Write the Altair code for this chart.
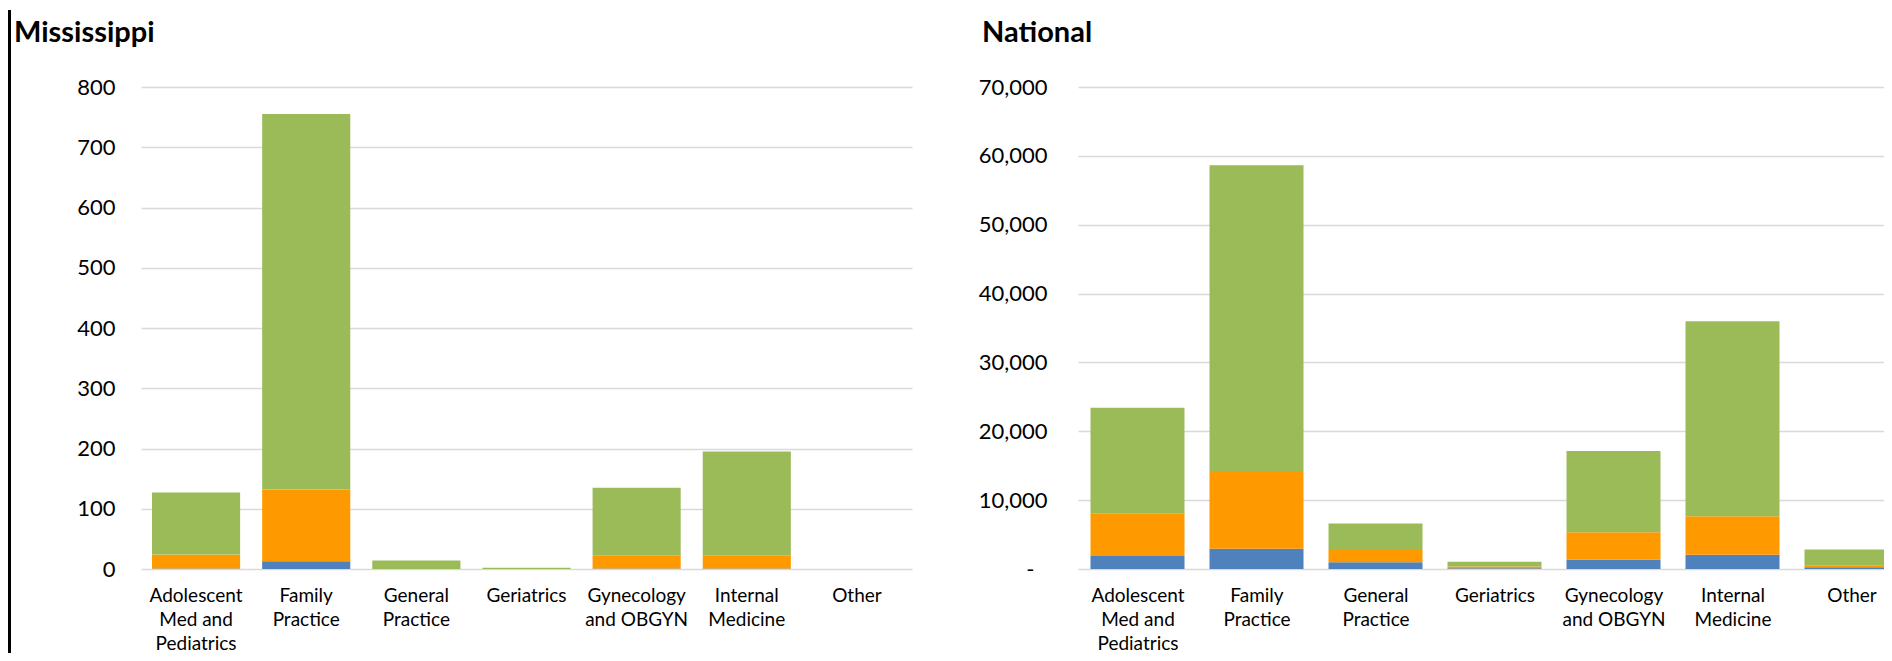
import altair as alt
import pandas as pd

# ---------------- data ----------------
categories = [
    "Adolescent Med and Pediatrics",
    "Family Practice",
    "General Practice",
    "Geriatrics",
    "Gynecology and OBGYN",
    "Internal Medicine",
    "Other",
]
label_lines = [
    ["Adolescent", "Med and", "Pediatrics"],
    ["Family", "Practice"],
    ["General", "Practice"],
    ["Geriatrics"],
    ["Gynecology", "and OBGYN"],
    ["Internal", "Medicine"],
    ["Other"],
]
series = ["Group 1", "Group 2", "Group 3"]
colors = ["#4F81BD", "#FF9900", "#9BBB59"]

ms_title = "Mississippi"
nat_title = "National"

ms_group1 = [1, 13, 0, 0, 1, 1, 0]
ms_group2 = [23, 119, 0, 0, 22, 21, 0]
ms_group3 = [103, 623, 14, 2, 112, 173, 0]

nat_group1 = [1900, 2950, 970, 120, 1350, 2070, 250]
nat_group2 = [6200, 11300, 1950, 250, 4000, 5600, 300]
nat_group3 = [15300, 44400, 3700, 670, 11800, 28300, 2300]

ms_ticks = [0, 100, 200, 300, 400, 500, 600, 700, 800]
nat_ticks = [0, 10000, 20000, 30000, 40000, 50000, 60000, 70000]


def long_df(groups):
    rows = []
    for si, (s, vals) in enumerate(zip(series, groups)):
        for ci, (c, v) in enumerate(zip(categories, vals)):
            rows.append({"category": c, "idx": ci, "series": s, "order": si, "value": v})
    return pd.DataFrame(rows)


ms_df = long_df([ms_group1, ms_group2, ms_group3])
nat_df = long_df([nat_group1, nat_group2, nat_group3])


def lines_arr(lines):
    return "[" + ",".join("'" + l + "'" for l in lines) + "]"


# label expressions for multi-line category labels
expr_name = "datum.value"
expr_idx = "datum.value"
for i, (c, lines) in reversed(list(enumerate(zip(categories, label_lines)))):
    expr_name = f"datum.value == '{c}' ? {lines_arr(lines)} : ({expr_name})"
    expr_idx = f"datum.value == {i} ? {lines_arr(lines)} : ({expr_idx})"

FONT = "Lato"
GRID = "#D9D9D9"
H = 482

color_enc = alt.Color(
    "series:N",
    scale=alt.Scale(domain=series, range=colors),
    legend=None,
)


def x_axis(expr, **kw):
    return alt.Axis(
        labelAngle=0,
        labelExpr=expr,
        labelFont=FONT,
        labelFontSize=19,
        labelColor="black",
        labelLineHeight=24,
        labelPadding=17,
        labelOverlap=False,
        labelFlush=False,
        labelLimit=250,
        ticks=False,
        domain=False,
        grid=False,
        title=None,
        **kw,
    )


def title_mark(text, dx):
    return alt.Chart(pd.DataFrame({"t": [text]})).mark_text(
        align="left",
        baseline="alphabetic",
        font=FONT,
        fontSize=29,
        fontWeight="bold",
        color="black",
    ).encode(x=alt.value(dx), y=alt.value(-45), text="t:N")


# ---------------- Mississippi ----------------
ms_bars = alt.Chart(ms_df).mark_bar().encode(
    x=alt.X(
        "category:N",
        sort=categories,
        scale=alt.Scale(paddingInner=0.2, paddingOuter=0.1),
        axis=x_axis(expr_name),
    ),
    y=alt.Y(
        "value:Q",
        stack="zero",
        scale=alt.Scale(domain=[0, 800], nice=False),
        axis=alt.Axis(
            values=ms_ticks,
            labelFont=FONT,
            labelFontSize=22,
            labelColor="black",
            labelPadding=26,
            ticks=False,
            domain=False,
            gridColor=GRID,
            gridWidth=1.3,
            title=None,
            minExtent=133,
            maxExtent=133,
        ),
    ),
    color=color_enc,
    order=alt.Order("order:Q", sort="ascending"),
)

border = alt.Chart(pd.DataFrame({"a": [0]})).mark_rule(
    color="black", strokeWidth=3
).encode(x=alt.value(-131.5), y=alt.value(-77), y2=alt.value(566))

ms_chart = alt.layer(ms_bars, border, title_mark(ms_title, -127)).properties(
    width=771,
    height=H,
)

# ---------------- National ----------------
# the right-hand panel is cut off by the picture's edge, so the last band runs past it
nat_bars = (
    alt.Chart(nat_df)
    .transform_stack(
        stack="value",
        groupby=["idx"],
        sort=[alt.SortField("order", order="ascending")],
        as_=["y0", "y1"],
    )
    .transform_calculate(x0="datum.idx - 0.395", x1="datum.idx + 0.395")
    .mark_bar()
    .encode(
        x=alt.X(
            "x0:Q",
            scale=alt.Scale(domain=[-0.5, 6.273], nice=False, zero=False, clamp=True),
            axis=x_axis(expr_idx, values=list(range(len(categories)))),
        ),
        x2="x1:Q",
        y=alt.Y(
            "y0:Q",
            scale=alt.Scale(domain=[0, 70000], nice=False),
            axis=alt.Axis(
                values=nat_ticks,
                labelExpr="datum.value == 0 ? '-' : format(datum.value, ',')",
                labelFont=FONT,
                labelFontSize=22,
                labelColor="black",
                labelPadding={"condition": {"test": "datum.value == 0", "value": 44}, "value": 31},
                ticks=False,
                domain=False,
                gridColor=GRID,
                gridWidth=1.3,
                title=None,
                minExtent=166,
                maxExtent=166,
            ),
        ),
        y2="y1:Q",
        color=color_enc,
    )
)

nat_chart = alt.layer(nat_bars, title_mark(nat_title, -96)).properties(
    width=806,
    height=H,
)

chart = (
    alt.hconcat(ms_chart, nat_chart, spacing=0)
    .properties(padding={"top": 0, "left": 0, "right": 0, "bottom": 0}, background="white")
    .configure_view(stroke=None)
)

chart.save("out.html", embed_options={"renderer": "svg", "actions": False})
